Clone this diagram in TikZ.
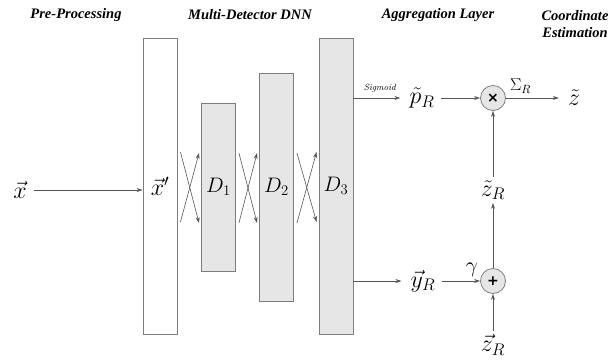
\RequirePackage{fix-cm}
\documentclass[tikz,border=0pt]{standalone}
\usepackage{fontspec}
\usetikzlibrary{arrows.meta,calc}
\newfontfamily\symfont{DejaVu Sans}
\newfontfamily\headfont{Liberation Serif}
\definecolor{Edge}{RGB}{125,125,125}
\definecolor{Fill}{RGB}{230,230,230}
\definecolor{Wire}{RGB}{85,85,85}

\begin{document}
\begin{tikzpicture}[x=1pt,y=-1pt,
 box/.style={draw=Edge,line width=.9pt,minimum width=34pt,inner sep=0pt,font=\fontsize{21}{21}\selectfont},
 dd/.style={box,fill=Fill},
 op/.style={circle,draw=Edge,fill=Fill,line width=.8pt,minimum size=25pt,inner sep=0pt,font=\symfont\bfseries\fontsize{14}{14}\selectfont},
 v/.style={inner sep=3pt,font=\fontsize{24}{24}\selectfont},
 hd/.style={font=\headfont\bfseries\itshape\fontsize{14.5}{17}\selectfont,align=center},
 a/.style={-{Stealth[length=6pt,width=4pt]},draw=Wire,line width=.6pt}]
\useasboundingbox (0,0) rectangle (613,360);
% stage titles
\node[hd] (h0) at (76,15) {Pre-Processing};
\node[hd] (h1) at (250,15) {Multi-Detector DNN};
\node[hd] (h2) at (438,15) {Aggregation Layer};
\node[hd] (h3) at (575,24) {Coordinate\\Estimation};
% detector columns
\node[v] (x) at (20,190) {$\vec{x}$};
\node[box,minimum height=296pt,font=\fontsize{24}{24}\selectfont] (xp) at (160,186) {$\vec{x}'$};
\node[dd,minimum height=168pt] (d1) at (218.5,187) {$D_1$};
\node[dd,minimum height=228pt] (d2) at (276.5,187) {$D_2$};
\node[dd,minimum height=296pt] (d3) at (336,186) {$D_3$};
\draw[a,shorten <=4pt] (x) -- (x -| xp.west);
\foreach \s/\t in {xp/d1,d1/d2,d2/d3}{
 \draw[a] ([xshift=3pt,yshift=34pt]\s.east) -- ([xshift=-2pt,yshift=-36pt]\t.west);
 \draw[a] ([xshift=3pt,yshift=-36pt]\s.east) -- ([xshift=-2pt,yshift=34pt]\t.west);
}
% aggregation
\node[v] (pr) at (422,98) {$\tilde{p}_R$};
\node[op] (mul) at (493,98) {×};
\node[v] (z) at (574,98) {$\tilde{z}$};
\node[v] (zr) at (493,190) {$\tilde{z}_R$};
\node[v] (yr) at (423,281) {$\vec{y}_R$};
\node[op] (add) at (493,281) {+};
\node[v] (zv) at (493,345) {$\vec{z}_R$};
\draw[a,shorten >=6pt] (d3.east |- pr) -- node[above=2pt,font=\itshape\fontsize{9}{9}\selectfont] {Sigmoid} (pr);
\draw[a,shorten >=6pt] (d3.east |- yr) -- (yr);
\draw[a,shorten <=3pt] (pr) -- (mul);
\draw[a,shorten <=3pt] (yr) -- node[pos=.8,above=1pt,font=\fontsize{22}{22}\selectfont] {$\gamma$} (add);
\draw[a,shorten >=6pt] (mul) -- node[pos=.25,above=1pt,font=\fontsize{17}{17}\selectfont] {$\Sigma_R$} (z);
\draw[a] (add) -- (zr);
\draw[a] (zr) -- (mul);
\draw[a] (zv) -- (add);
\end{tikzpicture}
\end{document}
